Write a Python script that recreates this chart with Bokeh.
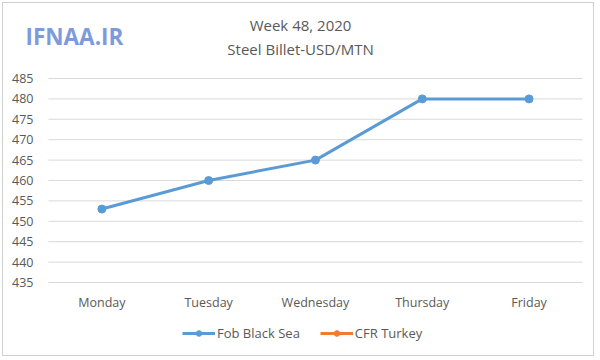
import numpy as np
from bokeh.plotting import figure
from bokeh.models import (ColumnDataSource, Range1d, FixedTicker,
                          Label, Legend, LegendItem)
from bokeh.embed import file_html
from bokeh.resources import INLINE

# ---- data ----
days = ["Monday", "Tuesday", "Wednesday", "Thursday", "Friday"]
fob_black_sea = [453, 460, 465, 480, 480]
cfr_turkey = [np.nan, np.nan, np.nan, np.nan, np.nan]
y_ticks = [435, 440, 445, 450, 455, 460, 465, 470, 475, 480, 485]
title_line1 = "Week 48, 2020"
title_line2 = "Steel Billet-USD/MTN"
logo_text = "IFNAA.IR"

FONT = "Open Sans"
TXT = "#595959"
BLUE = "#5b9bd5"
ORANGE = "#ed7d31"
GRID = "#d9d9d9"

x_pos = list(range(len(days)))   # category slots

p = figure(width=592, height=354, output_backend="svg", toolbar_location=None,
           title=None,
           x_range=Range1d(-0.921, 4.622),
           y_range=Range1d(416.62, 503.38),
           min_border_left=0, min_border_right=0,
           min_border_top=0, min_border_bottom=0)
p.styles = {"border": "1px solid #d0d0d0", "margin-left": "2px", "margin-top": "2px"}
p.outline_line_color = None
p.background_fill_color = "white"
p.border_fill_color = "white"
p.xgrid.visible = False
p.ygrid.visible = False

# horizontal gridlines spanning the category slots
p.segment(x0=[x_pos[0] - 0.5] * len(y_ticks), x1=[x_pos[-1] + 0.5] * len(y_ticks),
          y0=y_ticks, y1=y_ticks, line_color=GRID, line_width=1)

# axes
p.yaxis.ticker = FixedTicker(ticks=y_ticks)
p.xaxis.ticker = FixedTicker(ticks=x_pos)
p.xaxis.major_label_overrides = {i: d for i, d in zip(x_pos, days)}
for ax in (p.xaxis[0], p.yaxis[0]):
    ax.axis_line_color = None
    ax.major_tick_line_color = None
    ax.minor_tick_line_color = None
    ax.major_tick_out = 0
    ax.major_tick_in = 0
    ax.minor_tick_out = 0
    ax.minor_tick_in = 0
    ax.major_label_text_font = FONT
    ax.major_label_text_font_size = "12.5px"
    ax.major_label_text_color = TXT
p.yaxis.major_label_standoff = -30
p.xaxis.major_label_standoff = -64

src_fob = ColumnDataSource(dict(x=x_pos, val=fob_black_sea))
src_cfr = ColumnDataSource(dict(x=x_pos, val=cfr_turkey))

l1 = p.line("x", "val", source=src_fob, line_color=BLUE, line_width=3)
m1 = p.scatter("x", "val", source=src_fob, size=8, fill_color=BLUE, line_color=BLUE)
l2 = p.line("x", "val", source=src_cfr, line_color=ORANGE, line_width=3)
m2 = p.scatter("x", "val", source=src_cfr, size=8, fill_color=ORANGE, line_color=ORANGE)

legend = Legend(items=[LegendItem(label="Fob Black Sea", renderers=[l1, m1]),
                       LegendItem(label="CFR Turkey", renderers=[l2, m2])],
                orientation="horizontal", location=(179, 15),
                glyph_width=33, glyph_height=14, label_standoff=2, spacing=20,
                padding=0, margin=0, border_line_color=None,
                background_fill_alpha=0,
                label_text_font=FONT, label_text_font_size="13px",
                label_text_color=TXT, label_height=14)
p.add_layout(legend, "center")

# titles and logo (data coordinates inside the frame)
p.add_layout(Label(x=1.86, y=497.99, text=title_line1, text_align="center",
                   text_baseline="middle", text_font=FONT, text_font_size="15px",
                   text_color=TXT))
p.add_layout(Label(x=1.86, y=492.35, text=title_line2, text_align="center",
                   text_baseline="middle", text_font=FONT, text_font_size="15px",
                   text_color=TXT))
p.add_layout(Label(x=-0.715, y=495.29, text=logo_text, text_align="left",
                   text_baseline="middle", text_font=FONT, text_font_size="22.5px",
                   text_font_style="bold", text_color="#7d9bdc"))

open("out.html", "w").write(file_html(p, INLINE))
